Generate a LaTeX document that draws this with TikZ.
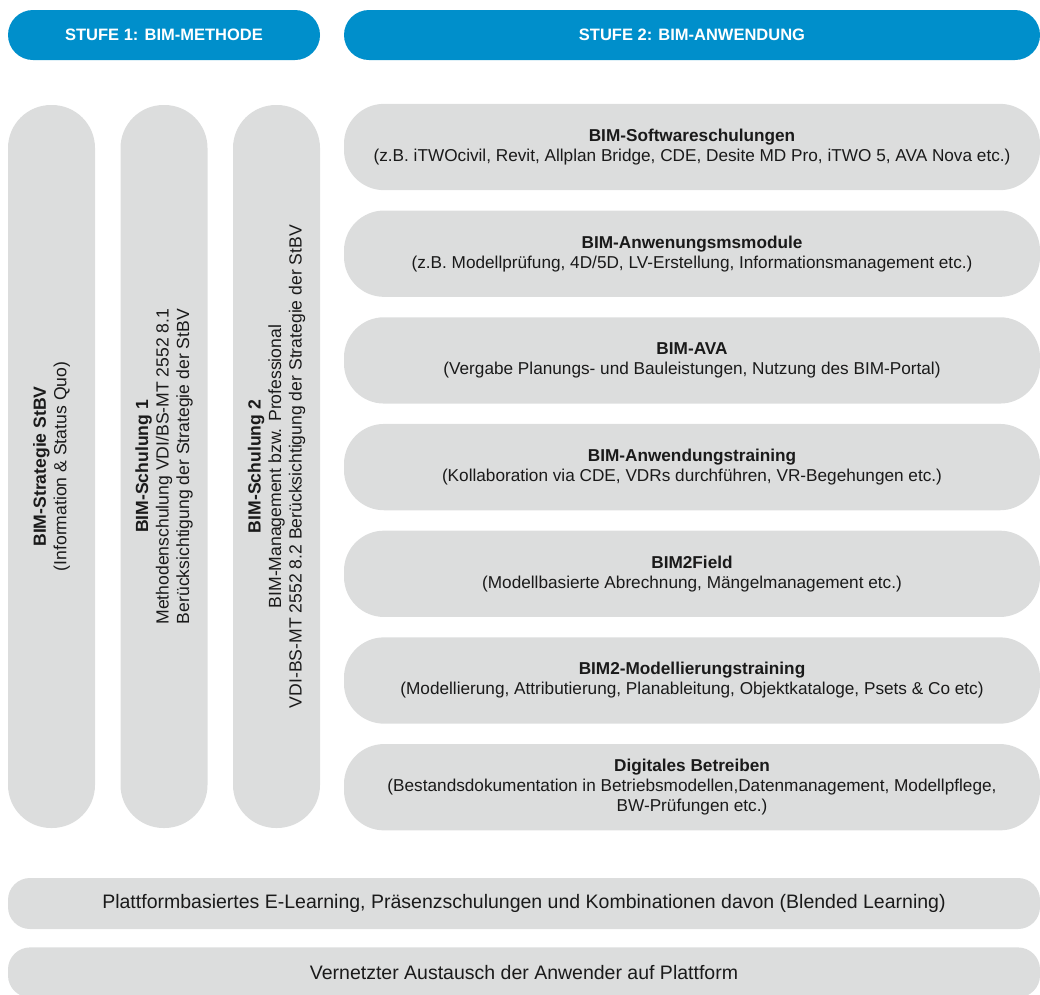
\documentclass[tikz,border=0pt]{standalone}
\usepackage{fontspec}
\setmainfont{Liberation Sans}
\usetikzlibrary{positioning}
\definecolor{stufeblau}{HTML}{008FCB}
\definecolor{kachelgrau}{HTML}{DCDDDD}
\definecolor{schrift}{HTML}{1A1A1A}
\newcommand {\kachel}[4] {\node[zeile, below=#2 of #1] (#3) {#4};}

\begin{document}
\begin{tikzpicture}[x=1pt, y=-1pt,
	stufe/.style={fill=stufeblau, rounded corners=25pt, minimum height=50pt, text=white,
		font=\fontsize{16.5}{19}\selectfont\bfseries},
	saeule/.style={fill=kachelgrau, rounded corners=43pt, rotate=90, minimum width=723pt,
		minimum height=87pt, align=center, text=schrift, font=\fontsize{17.6}{20.5}\selectfont},
	zeile/.style={fill=kachelgrau, rounded corners=40pt, minimum width=696pt, minimum height=86.3pt,
		align=center, text=schrift, font=\fontsize{17.2}{20}\selectfont},
	balken/.style={fill=kachelgrau, rounded corners=22pt, minimum width=1032pt, align=center,
		text=schrift, font=\fontsize{19.5}{22}\selectfont}]
	\useasboundingbox (0,0) rectangle (1040,994);
	\node[stufe, minimum width=312pt] (stufe1) at (164,35) {STUFE 1: BIM-METHODE};
	\node[stufe, minimum width=696pt] (stufe2) at (692,35) {STUFE 2: BIM-ANWENDUNG};
	\node[saeule] (strategie) at (51.5,466.5) {\textbf{BIM-Strategie StBV}\\(Information \& Status Quo)};
	\node[saeule] (schulung1) at (164,466.5) {\textbf{BIM-Schulung 1}\\Methodenschulung VDI/BS-MT 2552 8.1\\Berücksichtigung der Strategie der StBV};
	\node[saeule] (schulung2) at (276.5,466.5) {\textbf{BIM-Schulung 2}\\BIM-Management bzw. Professional\\VDI-BS-MT 2552 8.2 Berücksichtigung der Strategie der StBV};
	\node[zeile] (software) at (692,147) {\textbf{BIM-Softwareschulungen}\\(z.B. iTWOcivil, Revit, Allplan Bridge, CDE, Desite MD Pro, iTWO 5, AVA Nova etc.)};
	\kachel{software}{20pt}{module}{\textbf{BIM-Anwenungsmsmodule}\\(z.B. Modellprüfung, 4D/5D, LV-Erstellung, Informationsmanagement etc.)}
	\kachel{module}{20pt}{ava}{\textbf{BIM-AVA}\\(Vergabe Planungs- und Bauleistungen, Nutzung des BIM-Portal)}
	\kachel{ava}{20pt}{training}{\textbf{BIM-Anwendungstraining}\\(Kollaboration via CDE, VDRs durchführen, VR-Begehungen etc.)}
	\kachel{training}{20pt}{field}{\textbf{BIM2Field}\\(Modellbasierte Abrechnung, Mängelmanagement etc.)}
	\kachel{field}{20pt}{modellierung}{\textbf{BIM2-Modellierungstraining}\\(Modellierung, Attributierung, Planableitung, Objektkataloge, Psets \& Co etc)}
	\kachel{modellierung}{20pt}{betrieb}{\textbf{Digitales Betreiben}\\(Bestandsdokumentation in Betriebsmodellen,Datenmanagement, Modellpflege,\\BW-Prüfungen etc.)}
	\node[balken, minimum height=51pt] (lernen) at (524,903.5) {Plattformbasiertes E-Learning, Präsenzschulungen und Kombinationen davon (Blended Learning)};
	\node[balken, minimum height=50pt, below=18pt of lernen] (austausch) {Vernetzter Austausch der Anwender auf Plattform};
\end{tikzpicture}
\end{document}
